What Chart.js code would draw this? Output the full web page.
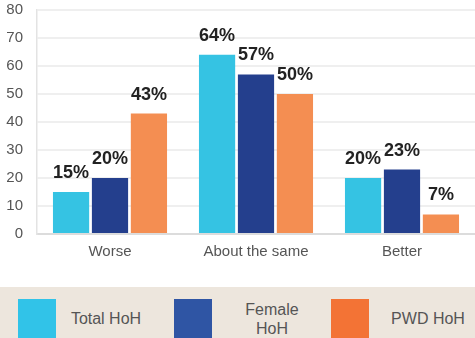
<!DOCTYPE html>
<html>
<head>
<meta charset="utf-8">
<script src="https://cdn.jsdelivr.net/npm/chart.js@4.4.1/dist/chart.umd.min.js"></script>
<style>
  html, body { margin: 0; padding: 0; background: #fff; }
  #wrap { position: relative; width: 475px; height: 338px; overflow: hidden; }
  #chartBox { position: absolute; left: 0; top: 0; width: 475px; height: 287px; }
  #legend { position: absolute; left: 0; top: 287px; width: 475px; height: 51px; background: #ede6dd; }
  .swatch { position: absolute; top: 12px; width: 38px; height: 39px; }
  .txt { position: absolute; top: 12px; height: 39px; width: 110px; display: flex; align-items: center; justify-content: center; text-align: center; font: 16px "Liberation Sans", Arial, sans-serif; color: #555; line-height: 19px; }
</style>
</head>
<body>
<div id="wrap">
  <div id="chartBox"><canvas id="barChart"></canvas></div>
  <div id="legend"></div>
</div>
<script>
// Categorias e séries
const categories = ['Worse', 'About the same', 'Better'];
const seriesNames = ['Total HoH', 'Female HoH', 'PWD HoH'];
const totalHoH = [15, 64, 20];
const femaleHoH = [20, 57, 23];
const pwdHoH = [43, 50, 7];
const yTicks = [0, 10, 20, 30, 40, 50, 60, 70, 80];

const barColors = ['#35c3e3', '#243f8d', '#f48e52'];
const legendColors = ['#31c3e8', '#2f55a4', '#f37335'];

// Rótulos de valor acima das barras
const valueLabels = {
  id: 'valueLabels',
  afterDatasetsDraw(chart) {
    const ctx = chart.ctx;
    ctx.save();
    ctx.font = 'bold 18px "Liberation Sans", Arial, sans-serif';
    ctx.fillStyle = '#222';
    ctx.textAlign = 'center';
    ctx.textBaseline = 'bottom';
    chart.data.datasets.forEach((ds, i) => {
      chart.getDatasetMeta(i).data.forEach((bar, j) => {
        ctx.fillText(ds.data[j] + '%', bar.x, bar.y - 10);
      });
    });
    ctx.restore();
  }
};

const ctx = document.getElementById('barChart').getContext('2d');
new Chart(ctx, {
  type: 'bar',
  data: {
    labels: categories,
    datasets: [totalHoH, femaleHoH, pwdHoH].map((values, i) => ({
      label: seriesNames[i],
      data: values,
      backgroundColor: barColors[i],
      categoryPercentage: 0.8,
      barPercentage: 0.93
    }))
  },
  options: {
    responsive: true,
    maintainAspectRatio: false,
    animation: false,
    layout: { padding: { top: 10, right: 0, bottom: 17, left: 0 } },
    plugins: { legend: { display: false }, tooltip: { enabled: false } },
    scales: {
      x: {
        grid: { display: false, drawTicks: false },
        border: { display: true, color: '#dcdcdc', width: 2 },
        ticks: {
          padding: 9,
          color: '#555',
          font: { family: '"Liberation Sans", Arial, sans-serif', size: 15 }
        }
      },
      y: {
        min: 0,
        max: 80,
        afterBuildTicks: s => { s.ticks = yTicks.map(v => ({ value: v })); },
        afterFit: s => { s.width = 37; s.paddingTop = 0; s.paddingBottom = 0; },
        grid: { color: '#efefef', lineWidth: 2, drawTicks: false },
        border: { display: true, color: '#e3e3e3', width: 1.5 },
        ticks: {
          padding: 14,
          color: '#555',
          font: { family: '"Liberation Sans", Arial, sans-serif', size: 15 }
        }
      }
    }
  },
  plugins: [valueLabels]
});

// Legenda em HTML (quadrado + texto centrado)
const legend = document.getElementById('legend');
const legendText = ['Total HoH', 'Female<br>HoH', 'PWD HoH'];
const swatchLeft = [18, 174, 331];
const textCenter = [106, 272, 428];
seriesNames.forEach((name, i) => {
  const sw = document.createElement('div');
  sw.className = 'swatch';
  sw.style.left = swatchLeft[i] + 'px';
  sw.style.background = legendColors[i];
  legend.appendChild(sw);

  const txt = document.createElement('div');
  txt.className = 'txt';
  txt.style.left = (textCenter[i] - 55) + 'px';
  txt.innerHTML = legendText[i];
  legend.appendChild(txt);
});
</script>
</body>
</html>
